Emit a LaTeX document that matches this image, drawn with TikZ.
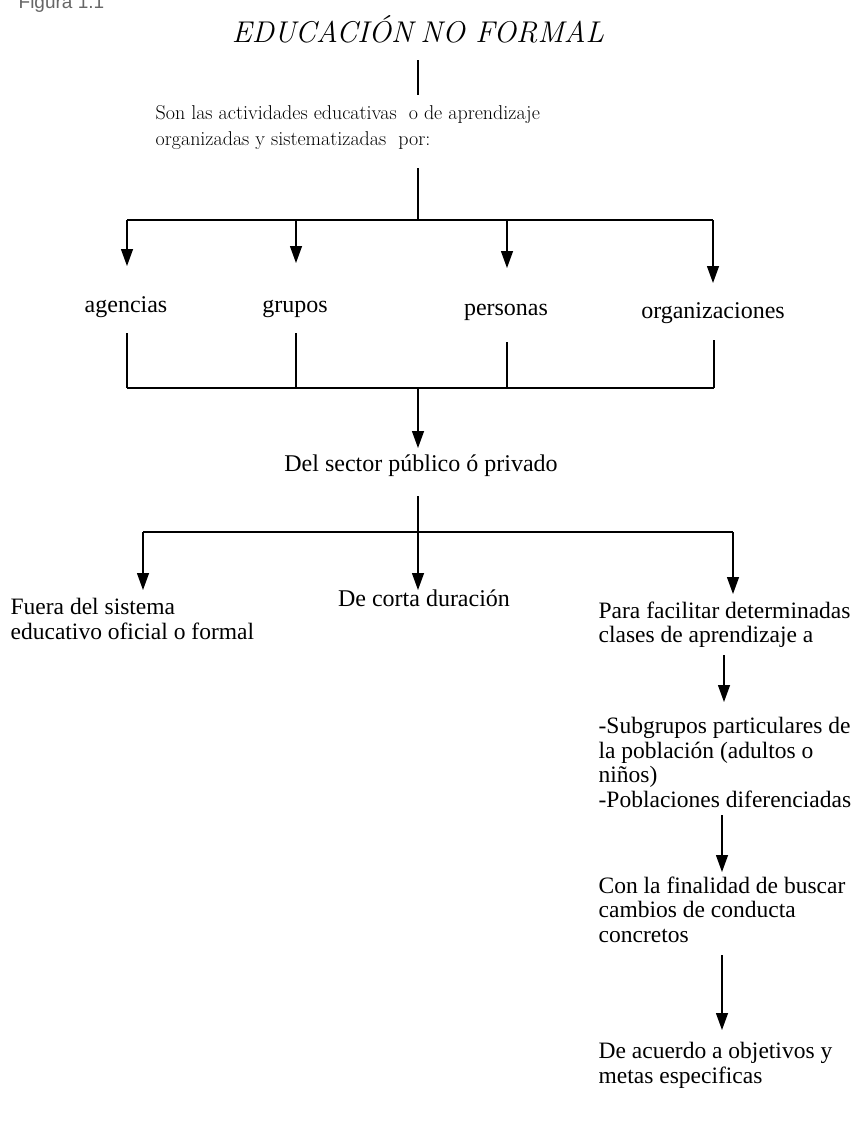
\documentclass[tikz,border=0pt]{standalone}
\usepackage{fontspec}
\newfontfamily\tms{Liberation Serif}
\newfontfamily\hlv{Liberation Sans}
\usetikzlibrary{arrows.meta}
\begin{document}
\begin{tikzpicture}[x=1pt,y=-1pt,line width=1.3pt,
  arr/.style={-{Triangle[width=12pt,length=17pt]}},
  lmtext/.style={inner sep=0pt,font=\fontsize{20}{26}\selectfont,align=left},
  tmtext/.style={inner sep=0pt,font=\tms\fontsize{23.5}{24.5}\selectfont,align=left},
  lbl/.style={inner sep=0pt,font=\tms\fontsize{24}{25}\selectfont,anchor=base}]
\useasboundingbox (0,0) rectangle (858,1128);
\clip (0,0) rectangle (858,1128);
% caption (cut at the top, as in the reference)
\node[anchor=base west,inner sep=0pt,text=black!60,font=\hlv\fontsize{19}{20}\selectfont] (fig) at (18,8) {Figura 1.1};
% title
\node[anchor=base,inner sep=0pt,font=\itshape\fontsize{30}{32}\selectfont] (title) at (418,42) {EDUCACIÓN\hspace{-3pt} NO FORMAL};
\node[lmtext,anchor=north west] (def) at (155,105) {Son las actividades educativas \ o de aprendizaje\\organizadas y sistematizadas \ por:};
\coordinate (t1) at (418,60);
\coordinate (t2) at (418,95);
\draw (t1) -- (t2);
% first split
\coordinate (d1) at (418,168);
\coordinate (h1) at (418,220);
\coordinate (ha) at (127,220);
\coordinate (hg) at (296,220);
\coordinate (hp) at (507,220);
\coordinate (ho) at (713,220);
\draw (d1) -- (h1);
\draw (ha) -- (ho);
\node[lbl] (ag) at (126,312) {agencias};
\node[lbl] (gr) at (295,312) {grupos};
\node[lbl] (pe) at (506,315) {personas};
\node[lbl] (or) at (713,318) {organizaciones};
\draw[arr] (ha) -- (127,266);
\draw[arr] (hg) -- (296,263);
\draw[arr] (hp) -- (507,268);
\draw[arr] (ho) -- (713,283);
% bracket
\coordinate (ba) at (127,388);
\coordinate (bg) at (296,388);
\coordinate (bp) at (507,388);
\coordinate (bo) at (714,388);
\draw (127,333) -- (ba);
\draw (296,333) -- (bg);
\draw (507,342) -- (bp);
\draw (714,340) -- (bo);
\draw (ba) -- (bo);
\coordinate (bm) at (418,388);
\node[lbl] (sec) at (421,471) {Del sector público ó privado};
\draw[arr] (bm) -- (418,448);
% second split
\coordinate (s1) at (418,496);
\coordinate (h2) at (418,532);
\coordinate (hl) at (143,532);
\coordinate (hr) at (733,532);
\draw (s1) -- (h2);
\draw (hl) -- (hr);
\draw[arr] (hl) -- (143,590);
\draw[arr] (h2) -- (418,590);
\draw[arr] (hr) -- (733,594);
\node[tmtext,anchor=north west] (fuera) at (10,598) {Fuera del sistema\\educativo oficial o formal};
\node[lbl] (corta) at (424,606) {De corta duración};
\node[tmtext,anchor=north west] (para) at (598,601) {Para facilitar determinadas\\clases de aprendizaje a};
\node[tmtext,anchor=north west] (sub) at (598,717) {-Subgrupos particulares de\\la población (adultos o\\niños)\\-Poblaciones diferenciadas};
\node[tmtext,anchor=north west] (con) at (598,876) {Con la finalidad de buscar\\cambios de conducta\\concretos};
\node[tmtext,anchor=north west] (acu) at (598,1042) {De acuerdo a objetivos y\\metas especificas};
\draw[arr] (724,655) -- (724,702);
\draw[arr] (722,815) -- (722,872);
\draw[arr] (722,955) -- (722,1030);
\end{tikzpicture}
\end{document}
